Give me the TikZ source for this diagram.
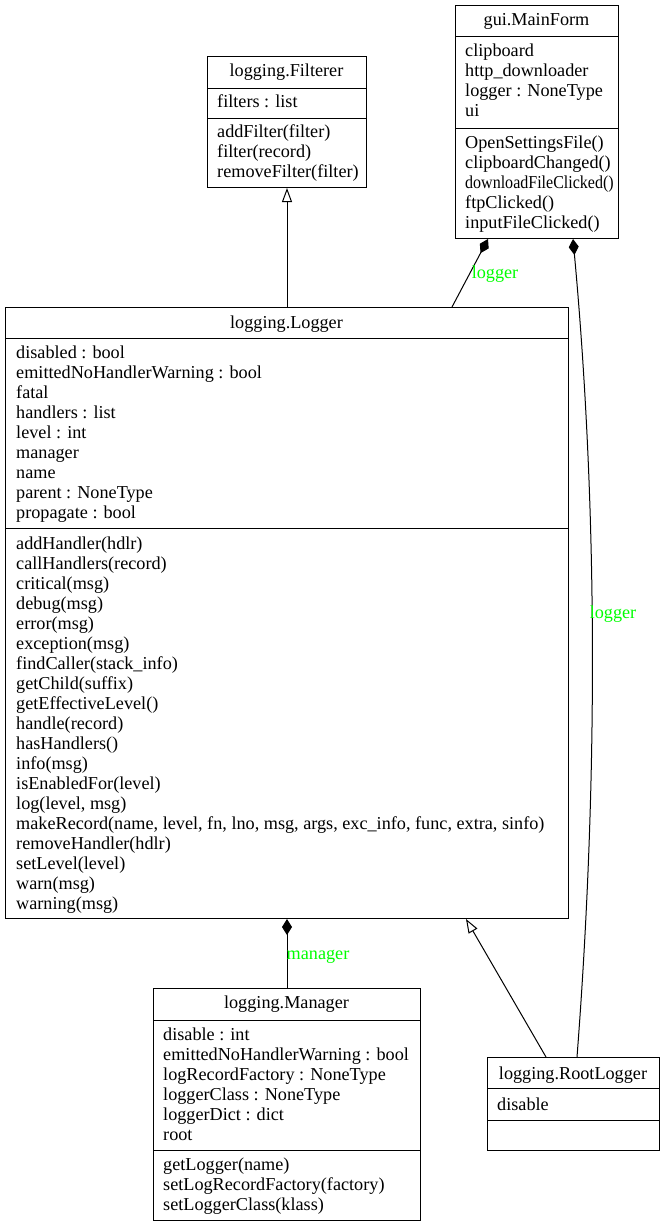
\documentclass[tikz,border=0pt]{standalone}
\usepackage{fontspec}
\usepackage{graphicx}
\setmainfont{Liberation Serif}
\usetikzlibrary{arrows.meta,calc}
\begin{document}
\begin{tikzpicture}[x=1pt,y=-1pt,
  box/.style={draw=black,line width=1pt,anchor=north west,inner sep=0,fill=white},
  sepline/.style={draw=black,line width=1pt},
  txt/.style={anchor=base west,inner sep=0,font=\fontsize{18.2}{20}\selectfont},
  ttl/.style={anchor=base,inner sep=0,font=\fontsize{18.2}{20}\selectfont},
  lbl/.style={anchor=base,inner sep=0,font=\fontsize{18.2}{20}\selectfont,text=green},
  conn/.style={draw=black,line width=1pt},
  inh/.style={conn,-{Triangle[open,length=14pt,width=10pt,line width=1pt]}},
  comp/.style={conn,-{Diamond[fill=black,length=16pt,width=10pt,line width=1pt]}}
]
\useasboundingbox (0,0) rectangle (665,1227);

% gui.MainForm
\node[box,minimum width=163pt,minimum height=233pt] (mainform) at (455,5) {};
\draw[sepline] (455,36) -- (618,36);
\draw[sepline] (455,128) -- (618,128);
\node[ttl] (mf-title) at (536.5,25) {gui.MainForm};
\foreach \t [count=\i from 0] in {clipboard,http\_downloader,logger : NoneType,ui}
  \node[txt] (mf-a\i) at (465,56+20*\i) {\t};
\foreach \t [count=\i from 0] in {OpenSettingsFile(),clipboardChanged(),{\scalebox{0.88}[1]{downloadFileClicked()}},ftpClicked(),inputFileClicked()}
  \node[txt] (mf-m\i) at (465,148+20*\i) {\t};

% logging.Filterer
\node[box,minimum width=159pt,minimum height=131pt] (filterer) at (207,56) {};
\draw[sepline] (207,88) -- (366,88);
\draw[sepline] (207,118) -- (366,118);
\node[ttl] (fi-title) at (286.5,76) {logging.Filterer};
\node[txt] (fi-a0) at (217,107) {filters : list};
\foreach \t [count=\i from 0] in {addFilter(filter),filter(record),removeFilter(filter)}
  \node[txt] (fi-m\i) at (217,137+20*\i) {\t};

% logging.Logger
\node[box,minimum width=563pt,minimum height=611pt] (logger) at (5,307) {};
\draw[sepline] (5,338) -- (568,338);
\draw[sepline] (5,528) -- (568,528);
\node[ttl] (lo-title) at (286.5,328) {logging.Logger};
\foreach \t [count=\i from 0] in {disabled : bool,emittedNoHandlerWarning : bool,fatal,handlers : list,level : int,manager,name,parent : NoneType,propagate : bool}
  \node[txt] (lo-a\i) at (16,358+20*\i) {\t};
\foreach \t [count=\i from 0] in {addHandler(hdlr),callHandlers(record),critical(msg),debug(msg),error(msg),exception(msg),findCaller(stack\_info),getChild(suffix),getEffectiveLevel(),handle(record),hasHandlers(),info(msg),isEnabledFor(level),{log(level, msg)},{makeRecord(name, level, fn, lno, msg, args, exc\_info, func, extra, sinfo)},removeHandler(hdlr),setLevel(level),warn(msg),warning(msg)}
  \node[txt] (lo-m\i) at (16,549+20*\i) {\t};

% logging.Manager
\node[box,minimum width=267pt,minimum height=232pt] (manager) at (153,988) {};
\draw[sepline] (153,1020) -- (420,1020);
\draw[sepline] (153,1150) -- (420,1150);
\node[ttl] (ma-title) at (286.5,1008) {logging.Manager};
\foreach \t [count=\i from 0] in {disable : int,emittedNoHandlerWarning : bool,logRecordFactory : NoneType,loggerClass : NoneType,loggerDict : dict,root}
  \node[txt] (ma-a\i) at (163,1040+20*\i) {\t};
\foreach \t [count=\i from 0] in {getLogger(name),setLogRecordFactory(factory),setLoggerClass(klass)}
  \node[txt] (ma-m\i) at (163,1170+20*\i) {\t};

% logging.RootLogger
\node[box,minimum width=172pt,minimum height=93pt] (rootlogger) at (487,1057) {};
\draw[sepline] (487,1088) -- (659,1088);
\draw[sepline] (487,1120) -- (659,1120);
\node[ttl] (rl-title) at (573,1079) {logging.RootLogger};
\node[txt] (rl-a0) at (497,1110) {disable};

% connectors
\coordinate (mf-s1) at ($(mainform.south west)+(33,0)$);
\coordinate (mf-s2) at ($(mainform.south west)+(118,0)$);
\coordinate (lo-n1) at ($(logger.north west)+(447,0)$);
\coordinate (lo-s1) at ($(logger.south west)+(461,0)$);
\coordinate (rl-n1) at ($(rootlogger.north west)+(59,0)$);
\coordinate (rl-n2) at ($(rootlogger.north west)+(90,0)$);

\draw[inh] (logger.north) -- (filterer.south);
\draw[comp] (lo-n1) -- (mf-s1);
\draw[comp] (rl-n2) .. controls (598,784) and (598,511) .. (mf-s2);
\draw[comp] (manager.north) -- (logger.south);
\draw[inh] (rl-n1) -- (lo-s1);

\node[lbl] (l1) at (495,278) {logger};
\node[lbl] (l2) at (613,618) {logger};
\node[lbl] (l3) at (318,959) {manager};
\end{tikzpicture}
\end{document}
